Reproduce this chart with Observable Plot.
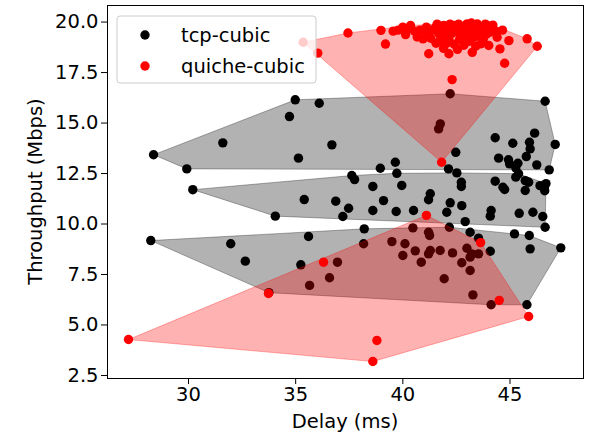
<!DOCTYPE html>
<html><head><meta charset="utf-8">
<script src="https://cdn.jsdelivr.net/npm/d3@7"></script>
<script src="https://cdn.jsdelivr.net/npm/@observablehq/plot@0.6"></script>
<style>body{margin:0;background:#fff;} svg{font-family:"DejaVu Sans",sans-serif;}</style>
</head><body><div id="chart"></div>
<script>
// [delay ms, throughput Mbps]
const tcpHigh = [[28.37,13.43],[29.92,12.73],[31.60,14.02],[34.71,15.32],[34.98,16.15],[36.10,15.98],[35.13,13.26],[36.69,13.92],[38.95,12.76],[39.65,13.06],[42.21,16.45],[41.75,14.96],[41.67,14.71],[42.47,13.55],[42.13,12.73],[46.64,16.08],[44.31,14.27],[46.15,14.50],[45.13,14.0],[45.91,14.05],[45.94,13.72],[47.11,13.94],[44.47,13.26],[44.93,13.18],[44.98,12.98],[45.76,13.34],[45.37,13.01],[45.27,12.78],[46.25,12.93],[46.83,12.68]];
const tcpMid = [[30.2,11.7],[34.05,10.39],[35.40,11.21],[36.87,11.13],[37.47,10.78],[37.20,10.37],[37.62,12.40],[37.75,12.20],[38.60,11.86],[39.10,11.16],[38.60,10.67],[39.69,10.62],[39.72,12.51],[39.95,11.91],[40.50,10.67],[41.2,11.2],[41.28,11.5],[42.21,11.05],[42.05,10.58],[42.75,10.91],[42.91,10.12],[44.12,10.67],[44.08,10.39],[44.75,11.71],[45.71,11.66],[46.4,11.9],[46.6,11.8],[45.43,10.53],[46.07,10.58],[46.53,10.37],[46.64,9.84],[42.52,12.53],[42.73,12.07],[42.73,11.86],[44.31,12.12],[44.67,11.82],[45.40,12.49],[45.27,12.32],[45.71,12.15],[45.87,12.07],[46.68,12.0],[46.62,11.65]];
const tcpLow = [[28.24,9.18],[31.97,9.02],[32.65,8.16],[33.75,6.6],[35.24,7.98],[35.60,9.38],[36.95,8.11],[36.58,7.34],[35.65,6.96],[38.20,9.76],[38.17,9.02],[39.49,9.13],[40.10,9.02],[40.58,8.67],[40.0,8.44],[40.86,8.11],[40.47,9.81],[41.2,9.59],[41.25,9.43],[41.2,8.52],[41.28,8.69],[41.74,8.69],[42.17,9.84],[43.14,9.59],[43.53,9.30],[44.08,8.65],[42.32,8.57],[42.99,8.80],[43.22,8.52],[43.14,8.36],[43.53,8.52],[42.75,8.08],[43.14,7.70],[41.93,7.29],[43.27,6.49],[44.12,6.0],[45.21,9.51],[45.90,9.43],[45.94,8.77],[47.37,8.82],[45.79,6.0]];
const quicheHigh = [[35.35,19.0],[36.03,18.46],[37.44,19.46],[38.98,19.59],[39.19,18.91],[39.78,19.6],[40.0,19.75],[40.13,19.38],[40.36,19.83],[40.67,19.26],[40.94,19.17],[41.1,19.75],[41.14,19.43],[41.21,18.43],[41.53,19.74],[41.68,19.42],[41.91,19.83],[42.07,19.58],[42.15,19.17],[42.15,18.43],[42.38,19.83],[42.54,19.58],[42.69,19.33],[42.85,19.74],[43.0,19.91],[43.16,19.58],[43.31,19.25],[43.24,18.5],[43.47,19.91],[43.63,18.92],[43.78,19.66],[43.94,19.83],[44.01,18.84],[44.09,19.5],[44.33,19.55],[44.53,18.67],[44.75,17.96],[44.95,19.08],[45.80,19.17],[46.27,18.80],[42.30,17.15],[41.81,13.06],
 [41.4,19.6],[41.6,19.9],[41.8,19.55],[41.95,19.3],[42.0,19.7],[42.2,19.9],[42.3,19.45],[42.45,19.7],[42.6,19.9],[42.65,19.15],[42.75,19.55],[42.9,19.3],[42.95,19.85],[43.05,19.45],[43.1,19.7],[43.2,19.95],[43.35,19.75],[43.4,19.45],[43.55,19.8],[43.6,19.3],[43.7,19.55],[43.85,19.9],[43.9,19.4],[44.05,19.75],[44.2,19.85],[41.3,19.2],[41.75,19.1],[42.4,18.9],[42.85,18.85],[43.4,18.8],[43.1,19.05],[42.05,18.95],[41.55,18.95],[44.4,19.25],[44.65,19.6],[40.55,19.55],[40.8,19.6],[39.55,19.55],[40.25,19.65],[43.75,19.15],[42.55,18.65],[41.9,18.7]];
const quicheLow = [[27.2,4.28],[33.73,6.56],[36.3,8.11],[38.79,4.23],[38.6,3.19],[41.1,10.43],[43.63,9.08],[44.5,6.22],[45.87,5.42]];

const xTicks = [30, 35, 40, 45];
const yTicks = [2.5, 5, 7.5, 10, 12.5, 15, 17.5, 20];
const seriesNames = ["tcp-cubic", "quiche-cubic"];
const seriesColors = ["black", "red"];
const xLabel = "Delay (ms)";
const yLabel = "Throughput (Mbps)";

const X = d => d[0], Y = d => d[1];
const hull = (d, c) => Plot.hull(d, {x: X, y: Y, fill: c, fillOpacity: 0.3, stroke: c, strokeOpacity: 0.3, strokeWidth: 1});
const dots = (d, c) => Plot.dot(d, {x: X, y: Y, r: 4.7, fill: c});

const FS = "19.5px";
const W = 593, H = 435, mL = 107, mR = 10, mT = 5, mB = 57;
const plot = Plot.plot({
  width: W, height: H, marginLeft: mL, marginRight: mR, marginTop: mT, marginBottom: mB,
  style: {fontFamily: "DejaVu Sans", fontSize: FS, background: "white", color: "black", overflow: "visible"},
  x: {domain: [26.22, 48.43], ticks: xTicks, tickSize: 6, tickPadding: 3, label: null},
  y: {domain: [2.35, 20.82], ticks: yTicks, tickFormat: d3.format(".1f"), tickSize: 6, tickPadding: 3, label: null},
  marks: [
    hull(tcpHigh, seriesColors[0]), hull(tcpMid, seriesColors[0]), hull(tcpLow, seriesColors[0]),
    dots([...tcpHigh, ...tcpMid, ...tcpLow], seriesColors[0]),
    hull(quicheHigh, seriesColors[1]), hull(quicheLow, seriesColors[1]),
    dots([...quicheHigh, ...quicheLow], seriesColors[1]),
    Plot.frame({stroke: "black", strokeWidth: 1})
  ]
});
document.getElementById("chart").appendChild(plot);
const svg = d3.select(plot);
svg.append("text").attr("x", mL + (W - mL - mR) / 2).attr("y", 421)
  .attr("text-anchor", "middle").attr("dominant-baseline", "central")
  .attr("font-size", FS).attr("fill", "black").text(xLabel);
svg.append("text").attr("transform", `translate(35,${mT + (H - mT - mB) / 2}) rotate(-90)`)
  .attr("text-anchor", "middle").attr("dominant-baseline", "central")
  .attr("font-size", FS).attr("fill", "black").text(yLabel);
// legend
const lg = svg.append("g").attr("text-anchor", "start");
lg.append("rect").attr("x", 117).attr("y", 16).attr("width", 199).attr("height", 67)
  .attr("rx", 3).attr("fill", "white").attr("fill-opacity", 0.8).attr("stroke", "#cccccc").attr("stroke-width", 1);
seriesNames.forEach((n, i) => {
  const cy = 35 + i * 31;
  lg.append("circle").attr("cx", 145).attr("cy", cy).attr("r", 4.7).attr("fill", seriesColors[i]);
  lg.append("text").attr("x", 181).attr("y", cy).attr("text-anchor", "start").attr("dominant-baseline", "central")
    .attr("font-size", FS).attr("fill", "black").text(n);
});
</script></body></html>
